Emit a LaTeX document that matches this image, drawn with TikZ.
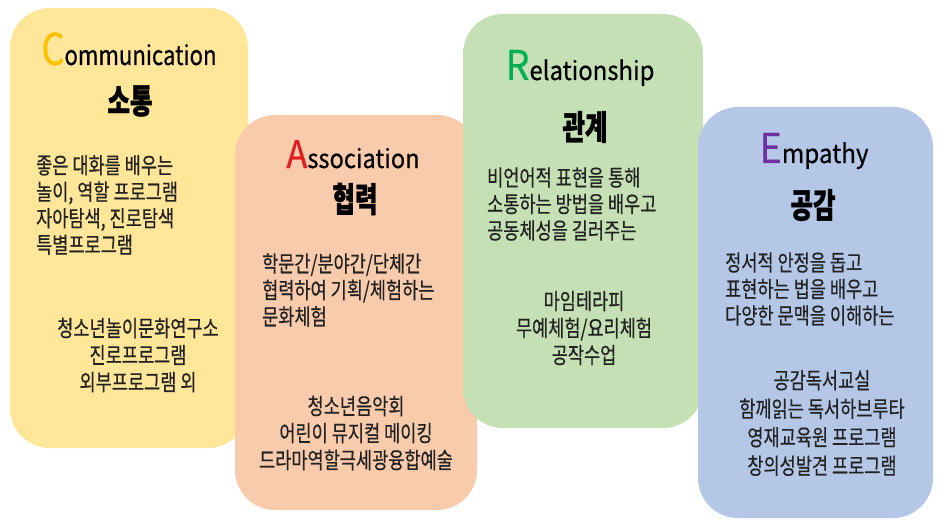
\documentclass[tikz,border=0pt]{standalone}
\usepackage{fontspec}
\setmainfont{Noto Sans CJK KR}[BoldFeatures={FakeBold=1.2}]
\newfontfamily\bodyfont{Noto Sans CJK KR}[FakeBold=0.5]
\definecolor{cyel}{HTML}{FFE699}
\definecolor{corg}{HTML}{F8CBAD}
\definecolor{cgrn}{HTML}{C5E0B4}
\definecolor{cblu}{HTML}{B4C7E7}
\definecolor{lgold}{HTML}{FFC000}
\definecolor{lred}{HTML}{E01E1E}
\definecolor{lgrn}{HTML}{00B050}
\definecolor{lpur}{HTML}{7030A0}
\definecolor{txt}{HTML}{222222}
\tikzset{
  card/.style={rounded corners=40pt, draw=none, inner sep=0pt},
  body/.style={inner sep=0pt, align=left, anchor=west, xscale=0.78, text=txt,
    font=\bodyfont\fontsize{22.5}{26.5}\selectfont},
  list/.style={inner sep=0pt, align=center, xscale=0.78, text=txt,
    font=\bodyfont\fontsize{22.5}{27}\selectfont},
  head/.style={inner sep=0pt, xscale=0.72, text=black,
    font=\bfseries\fontsize{34}{34}\selectfont},
  ttl/.style={inner sep=0pt, anchor=base, text=black, font=\bodyfont},
}
\begin{document}
\begin{tikzpicture}[x=1pt, y=-1pt]
\useasboundingbox[fill=white] (0,0) rectangle (940,524);
% cards
\node[card, fill=cyel, minimum width=238pt, minimum height=440pt] (cardC) at (129,228) {};
\node[card, fill=corg, minimum width=242pt, minimum height=395pt] (cardA) at (356,312.5) {};
\node[card, fill=cgrn, minimum width=240pt, minimum height=414pt] (cardR) at (583,221) {};
\node[card, fill=cblu, minimum width=235pt, minimum height=411pt] (cardE) at (815.5,312.5) {};
% Communication
\node[ttl, xscale=0.82] (tC) at (129,65) {{\fontsize{44}{44}\selectfont\color{lgold}C}{\fontsize{27}{27}\selectfont ommunication}};
\node[head] (hC) at (130,101) {소통};
\node[body] (bC) at (36,205) {좋은 대화를 배우는\\놀이, 역할 프로그램\\자아탐색, 진로탐색\\특별프로그램};
\node[list] (lC) at (138,355) {청소년놀이문화연구소\\진로프로그램\\외부프로그램 외};
% Association
\node[ttl, xscale=0.91] (tA) at (353,168) {{\fontsize{38}{38}\selectfont\color{lred}A}{\fontsize{26}{26}\selectfont ssociation}};
\node[head] (hA) at (355,199) {협력};
\node[body] (bA) at (262,290) {학문간/분야간/단체간\\협력하여 기획/체험하는\\문화체험};
\node[list] (lA) at (356,433) {청소년음악회\\어린이 뮤지컬 메이킹\\드라마역할극세광융합예술};
% Relationship
\node[ttl, xscale=0.92] (tR) at (580,80) {{\fontsize{41}{41}\selectfont\color{lgrn}R}{\fontsize{26}{26}\selectfont elationship}};
\node[head] (hR) at (585,127) {관계};
\node[body] (bR) at (487,204) {비언어적 표현을 통해\\소통하는 방법을 배우고\\공동체성을 길러주는};
\node[list] (lR) at (584,328) {마임테라피\\무예체험/요리체험\\공작수업};
% Empathy
\node[ttl, xscale=0.93] (tE) at (814,163) {{\fontsize{41}{41}\selectfont\color{lpur}E}{\fontsize{26}{26}\selectfont mpathy}};
\node[head] (hE) at (813,205) {공감};
\node[body] (bE) at (725,289) {정서적 안정을 돕고\\표현하는 법을 배우고\\다양한 문맥을 이해하는};
\node[list, font=\bodyfont\fontsize{22.5}{28.5}\selectfont] (lE) at (822,423) {공감독서교실\\함께읽는 독서하브루타\\영재교육원 프로그램\\창의성발견 프로그램};
\end{tikzpicture}
\end{document}
